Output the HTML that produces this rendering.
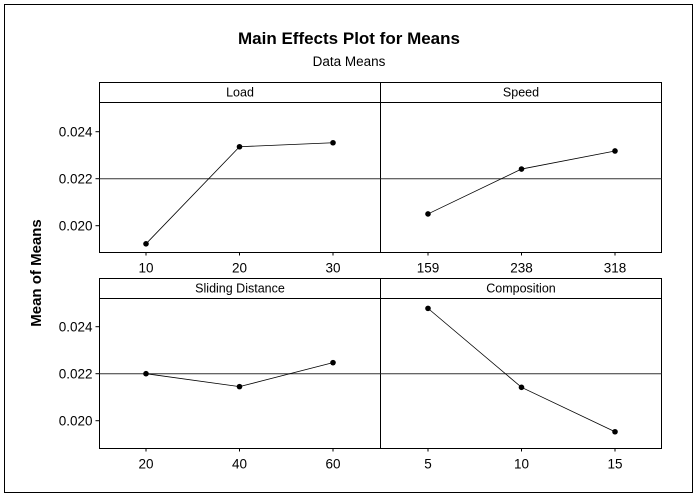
<!DOCTYPE html>
<html><head><meta charset="utf-8"><style>
body{margin:0;background:#fff;}
svg text{font-family:"Liberation Sans","DejaVu Sans",sans-serif;}
</style></head><body>
<svg id="chart" width="700" height="497" xmlns="http://www.w3.org/2000/svg">
<rect x="4.5" y="4.5" width="688" height="488" fill="#fff" stroke="#000"/>
<text x="349" y="44" text-anchor="middle" font-size="17" font-weight="bold">Main Effects Plot for Means</text>
<text x="349" y="66" text-anchor="middle" font-size="13.5">Data Means</text>
<text transform="translate(41,273) rotate(-90)" text-anchor="middle" font-size="15" font-weight="bold">Mean of Means</text>
<g id="panels"></g>
</svg>
<script>
const factors = ["Load","Speed","Sliding Distance","Composition"];
const levels = [["10","20","30"],["159","238","318"],["20","40","60"],["5","10","15"]];
const loadMeans = [0.01923,0.02336,0.02353];
const speedMeans = [0.0205,0.02241,0.02318];
const slidingMeans = [0.0220,0.02145,0.02247];
const compositionMeans = [0.02478,0.02142,0.01953];
const yTicks = [0.020,0.022,0.024];
const grandMean = 0.0220;
const series = [loadMeans,speedMeans,slidingMeans,compositionMeans];

const NS="http://www.w3.org/2000/svg";
const g=document.getElementById('panels');
function mk(t,a){const e=document.createElementNS(NS,t);for(const k in a)e.setAttribute(k,a[k]);g.appendChild(e);return e;}
const colX=[99.5,380.5], colW=281, rowTop=[82.5,278.5], hdrH=20, plotBottom=[252.5,448.5];
function yScale(v,row){const base=row===0?131.7:326.7;return base+(0.024-v)/0.002*47;}
function xScale(i,col){return colX[col]+(col===0?46.5:47.5)+i*93.5;}
for(let p=0;p<4;p++){
  const col=p%2,row=Math.floor(p/2);
  const x0=colX[col],y0=rowTop[row],yb=plotBottom[row];
  const fr=mk('rect',{x:x0,y:y0,width:colW,height:yb-y0,fill:'none',stroke:'#000'});
  
  
  const hl=mk('line',{x1:x0,x2:x0+colW,y1:y0+hdrH,y2:y0+hdrH,stroke:'#000'});
  
  
  const ht=mk('text',{x:x0+colW/2,y:y0+14,'text-anchor':'middle','font-size':'12.5'});
  ht.textContent=factors[p];
  
  
  const gm=mk('line',{x1:x0,x2:x0+colW,y1:yScale(grandMean,row),y2:yScale(grandMean,row),stroke:'#333'});
  
  
  if(col===0){
    yTicks.forEach(t=>{
      const y=yScale(t,row);
      const tk=mk('line',{x1:x0-4,x2:x0,y1:y,y2:y,stroke:'#000'});
      
      
      const tl=mk('text',{x:x0-7,y:y+5,'text-anchor':'end','font-size':'13.5'});
      tl.textContent=t.toFixed(3);
      
      
    });
  }
  levels[p].forEach((lv,i)=>{
    const x=xScale(i,col);
    const tk=mk('line',{x1:x,x2:x,y1:yb,y2:yb+3,stroke:'#000'});
    
    
    const tl=mk('text',{x:x,y:yb+20,'text-anchor':'middle','font-size':'13.5'});
    tl.textContent=lv;
    
    
  });
  const pts=series[p].map((v,i)=>xScale(i,col)+','+yScale(v,row)).join(' ');
  const pl=mk('polyline',{points:pts,fill:'none',stroke:'#000','stroke-width':'0.8'});
  
  
  series[p].forEach((v,i)=>{
    const c=mk('circle',{cx:xScale(i,col),cy:yScale(v,row),r:2.8,fill:'#000'});
    
    
  });
}
</script>
</body></html>
